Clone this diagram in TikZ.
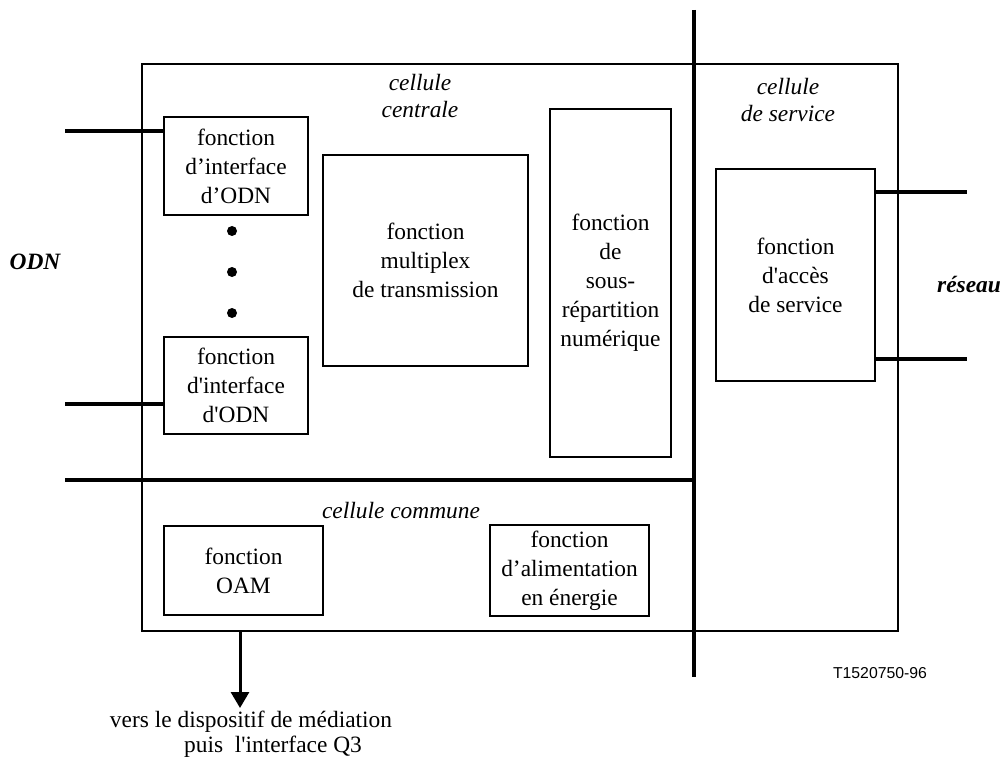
\documentclass[tikz,border=0pt]{standalone}
\usepackage{fontspec}
\setmainfont{Liberation Serif}
\setsansfont{Liberation Sans}
\usetikzlibrary{arrows.meta}
\begin{document}
\begin{tikzpicture}[x=1pt,y=-1pt,
  thin line/.style={line width=1.2pt},
  thick line/.style={line width=3.5pt},
  fbox/.style={draw,thin line,inner sep=0pt,align=center,
    font=\fontsize{23.4}{29}\selectfont},
  lab/.style={inner sep=0pt,align=center,font=\fontsize{23.4}{27}\selectfont\itshape},
  side/.style={inner sep=0pt,font=\fontsize{23.4}{27}\selectfont\bfseries\itshape},
  dot/.style={circle,fill,inner sep=0pt,minimum size=10pt}]
\useasboundingbox (0,0) rectangle (1004,762);
% outer frame
\node[draw,thin line,inner sep=0pt,minimum width=756pt,minimum height=567pt] (frame) at (520,347.5) {};
% boxes
\node[fbox,minimum width=144pt,minimum height=98pt] (odn1) at (236,166) {fonction\\d’interface\\d’ODN};
\node[fbox,minimum width=144pt,minimum height=97pt] (odn2) at (236,385.5) {fonction\\d\textquotesingle interface\\d\textquotesingle ODN};
\node[fbox,minimum width=205pt,minimum height=211pt] (mux) at (425.5,260.5) {fonction\\multiplex\\de transmission};
\node[fbox,minimum width=121pt,minimum height=348pt] (sous) at (610.5,283) {fonction\\de\\sous-\\répartition\\numérique};
\node[fbox,minimum width=159pt,minimum height=212pt] (acc) at (795.5,275) {fonction\\d\textquotesingle accès\\de service};
\node[fbox,minimum width=159pt,minimum height=89pt] (oam) at (243.5,570.5) {fonction\\OAM};
\node[fbox,minimum width=159pt,minimum height=91pt] (alim) at (569.5,570.5) {fonction\\d’alimentation\\en énergie};
% dots
\node[dot] (d1) at (232,231) {};
\node[dot] (d2) at (232,272) {};
\node[dot] (d3) at (232,313) {};
% labels
\node[lab] (cc) at (420,96) {cellule\\centrale};
\node[lab] (cs) at (788,100) {cellule\\de service};
\node[lab] (cm) at (401,511) {cellule commune};
\node[side] (odn) at (35,262) {ODN};
\node[side] (res) at (969,285) {réseau};
\node[inner sep=0pt,font=\sffamily\fontsize{15.8}{18}\selectfont] (ref) at (880,673) {T1520750-96};
\node[inner sep=0pt,font=\fontsize{23.4}{27}\selectfont] (q1) at (251,722) {vers le dispositif de médiation};
\node[inner sep=0pt,font=\fontsize{23.4}{27}\selectfont] (q2) at (273,747) {puis\ \ l\textquotesingle interface Q3};
% thick separators
\coordinate (vt) at (694,10);
\coordinate (vb) at (694,677);
\coordinate (hl) at (65,480);
\draw[thick line] (vt) -- (vb);
\draw[thick line] (hl) -- (hl -| vt);
% ODN links
\coordinate (l1) at (65,131);
\coordinate (l2) at (65,404);
\draw[thick line] (l1) -- (l1 -| odn1.west);
\draw[thick line] (l2) -- (l2 -| odn2.west);
% network links
\coordinate (r1) at (967,192);
\coordinate (r2) at (967,359);
\draw[thick line] (r1 -| acc.east) -- (r1);
\draw[thick line] (r2 -| acc.east) -- (r2);
% arrow to mediation
\coordinate (as) at (240,631);
\coordinate (ae) at (240,708);
\draw[line width=3pt,-{Triangle[width=18pt,length=16pt]}] (as) -- (ae);
\end{tikzpicture}
\end{document}
